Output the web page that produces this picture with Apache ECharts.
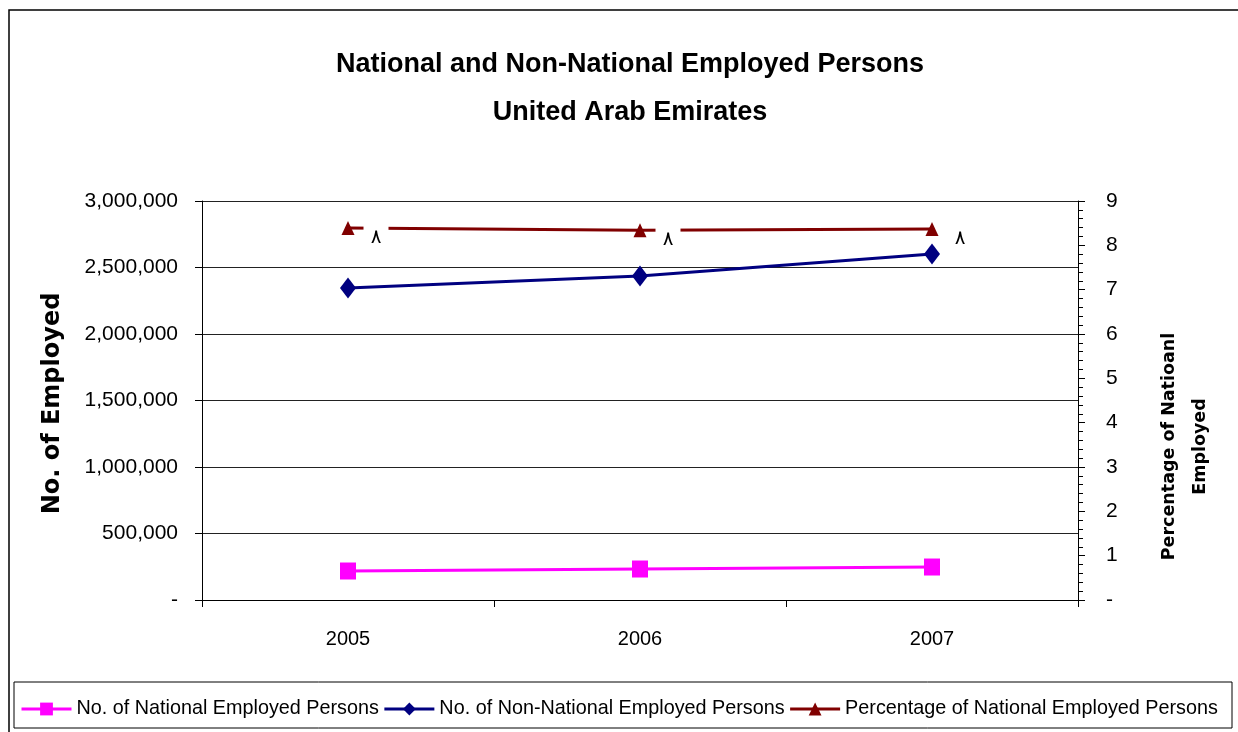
<!DOCTYPE html>
<html>
<head>
<meta charset="utf-8">
<script src="https://cdn.jsdelivr.net/npm/echarts@6/dist/echarts.min.js"></script>
<style>
html,body{margin:0;padding:0;background:#fff;}
#chart{width:1238px;height:732px;}
</style>
</head>
<body>
<div id="chart"></div>
<script>
const years = ['2005', '2006', '2007'];
const nationalEmployed = [218000, 233000, 248000];
const nonNationalEmployed = [2346000, 2436000, 2602000];
const pctNational = [8.39, 8.34, 8.37];
const leftTicks = { min: 0, max: 3000000, interval: 500000 };
const rightTicks = { min: 0, max: 9, interval: 1 };
const seriesNames = ['No. of National Employed Persons', 'No. of Non-National Employed Persons', 'Percentage of National Employed Persons'];

const arabicDigits = ['٠','١','٢','٣','٤','٥','٦','٧','٨','٩'];
function toArabic(n){ return String(n).split('').map(d => arabicDigits[+d] !== undefined ? arabicDigits[+d] : d).join(''); }
function commas(v){ return v === 0 ? '-' : v.toLocaleString('en-US'); }

const chart = echarts.init(document.getElementById('chart'));
const baseFont = 'Liberation Sans';
chart.setOption({
  animation: false,
  backgroundColor: '#fff',
  title: {
    text: 'National and Non-National Employed Persons\nUnited Arab Emirates',
    left: 625, top: 36, textAlign: 'center',
    textStyle: { fontFamily: baseFont, fontWeight: 'bold', fontSize: 27, color: '#000', lineHeight: 48 }
  },
  graphic: [
    { type: 'rect', shape: { x: 9, y: 10, width: 1240, height: 730 }, style: { fill: 'none', stroke: '#000', lineWidth: 1.5 }, silent: true },
    { type: 'rect', shape: { x: 14, y: 682, width: 1218, height: 46 }, style: { fill: 'none', stroke: '#000', lineWidth: 1 }, silent: true }
  ],
  legend: {
    left: 20, top: 699, width: 1225, padding: 0,
    itemWidth: 50, itemHeight: 16, itemGap: 4,
    lineStyle: { width: 3 },
    textStyle: { fontFamily: baseFont, fontSize: 19.8, color: '#000' },
    data: seriesNames
  },
  grid: { left: 202, right: 160, top: 201, bottom: 132, containLabel: false },
  xAxis: {
    type: 'category', data: years, boundaryGap: true,
    axisLine: { lineStyle: { color: '#000', width: 1 } },
    axisTick: { show: true, interval: 0, length: 7, lineStyle: { color: '#000' } },
    axisLabel: { fontFamily: baseFont, fontSize: 20, color: '#000', margin: 29 }
  },
  yAxis: [
    {
      type: 'value', min: leftTicks.min, max: leftTicks.max, interval: leftTicks.interval,
      name: 'No. of Employed', nameLocation: 'middle', nameGap: 137, nameRotate: 90,
      nameTextStyle: { fontFamily: 'DejaVu Sans', fontWeight: 'bold', fontSize: 24, color: '#000', padding: [0, 6, 0, 0] },
      axisLine: { show: true, lineStyle: { color: '#000' } },
      axisTick: { show: true, length: 7, lineStyle: { color: '#000' } },
      splitLine: { show: true, lineStyle: { color: '#222', width: 1 } },
      axisLabel: { fontFamily: baseFont, fontSize: 21, color: '#000', margin: 24, formatter: commas }
    },
    {
      type: 'value', min: rightTicks.min, max: rightTicks.max, interval: rightTicks.interval,
      name: 'Percentage of Natioanl\nEmployed', nameLocation: 'middle', nameGap: 76, nameRotate: 90,
      nameTextStyle: { fontFamily: 'DejaVu Sans', fontWeight: 'bold', fontSize: 17.5, color: '#000', lineHeight: 31, padding: [0, 92, 0, 0] },
      position: 'right',
      axisLine: { show: true, lineStyle: { color: '#000' } },
      axisTick: { show: true, length: 7, lineStyle: { color: '#000' } },
      minorTick: { show: true, splitNumber: 5, length: 5, lineStyle: { color: '#000' } },
      splitLine: { show: false },
      axisLabel: { fontFamily: baseFont, fontSize: 21, color: '#000', margin: 28, formatter: v => v === 0 ? '-' : String(v) }
    }
  ],
  series: [
    {
      name: seriesNames[0], type: 'line', yAxisIndex: 0, data: nationalEmployed,
      symbol: 'rect', symbolSize: [16, 17],
      itemStyle: { color: '#ff00ff' }, lineStyle: { color: '#ff00ff', width: 3 }
    },
    {
      name: seriesNames[1], type: 'line', yAxisIndex: 0, data: nonNationalEmployed,
      symbol: 'diamond', symbolSize: [16, 21],
      itemStyle: { color: '#000080' }, lineStyle: { color: '#000080', width: 3 }
    },
    {
      name: seriesNames[2], type: 'line', yAxisIndex: 1, data: pctNational,
      symbol: 'triangle', symbolSize: [13, 14],
      itemStyle: { color: '#800000' }, lineStyle: { color: '#800000', width: 3 },
      label: {
        show: true, position: 'inside', offset: [28, 10],
        formatter: p => toArabic(Math.round(p.value)),
        fontFamily: 'DejaVu Sans', fontSize: 20, lineHeight: 20, color: '#000',
        width: 25, align: 'center',
        backgroundColor: '#fff', padding: [9, 0, 1, 0]
      },
      z: 3
    }
  ]
});
</script>
</body>
</html>
